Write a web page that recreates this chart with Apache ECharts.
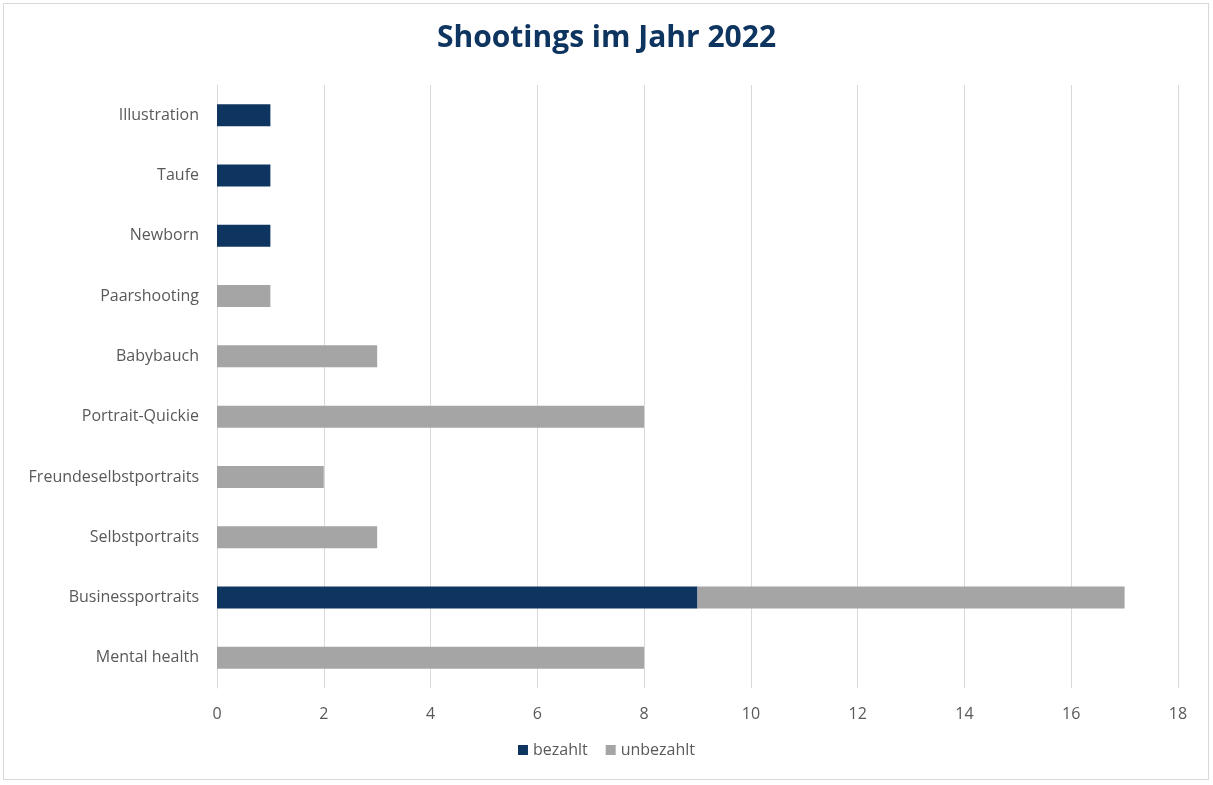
<!DOCTYPE html>
<html>
<head>
<meta charset="utf-8">
<script src="https://cdn.jsdelivr.net/npm/echarts@6/dist/echarts.min.js"></script>
<style>
  html, body { margin: 0; padding: 0; background: #fff; }
  #chart { width: 1213px; height: 785px; }
  #frame { position: absolute; left: 3px; top: 3px; width: 1204px; height: 775px; border: 1px solid #d9d9d9; pointer-events: none; }
</style>
</head>
<body>
<div id="chart"></div>
<div id="frame"></div>
<script>
// categories bottom to top
const categories = ['Mental health', 'Businessportraits', 'Selbstportraits', 'Freundeselbstportraits',
  'Portrait-Quickie', 'Babybauch', 'Paarshooting', 'Newborn', 'Taufe', 'Illustration'];
const bezahlt   = [0, 9, 0, 0, 0, 0, 0, 1, 1, 1];
const unbezahlt = [8, 8, 3, 2, 8, 3, 1, 0, 0, 0];

const chart = echarts.init(document.getElementById('chart'));
const font = 'Open Sans, Liberation Sans, sans-serif';

chart.setOption({
  title: {
    text: 'Shootings im Jahr 2022',
    left: 'center',
    top: 18,
    textStyle: { color: '#0e3460', fontSize: 30, fontWeight: 'bold', fontFamily: font }
  },
  legend: {
    bottom: 22,
    left: 'center',
    itemWidth: 10,
    itemHeight: 10,
    itemGap: 18,
    icon: 'rect',
    textStyle: { color: '#595959', fontSize: 16, fontFamily: font },
    data: ['bezahlt', 'unbezahlt']
  },
  grid: { left: 217, right: 35, top: 85, bottom: 97 },
  xAxis: {
    type: 'value',
    min: 0,
    max: 18,
    interval: 2,
    axisLine: { show: false },
    axisTick: { show: false },
    splitLine: { lineStyle: { color: '#d9d9d9' } },
    axisLabel: { color: '#595959', fontSize: 16, fontFamily: font, margin: 18 }
  },
  yAxis: {
    type: 'category',
    data: categories,
    axisLine: { lineStyle: { color: '#d9d9d9' } },
    axisTick: { show: false },
    axisLabel: { color: '#595959', fontSize: 16, fontFamily: font, margin: 18 }
  },
  series: [
    {
      name: 'bezahlt', type: 'bar', stack: 'total', barWidth: 22,
      itemStyle: { color: '#0e3460' },
      data: bezahlt
    },
    {
      name: 'unbezahlt', type: 'bar', stack: 'total', barWidth: 22,
      itemStyle: { color: '#a5a5a5' },
      data: unbezahlt
    }
  ]
});
</script>
</body>
</html>
